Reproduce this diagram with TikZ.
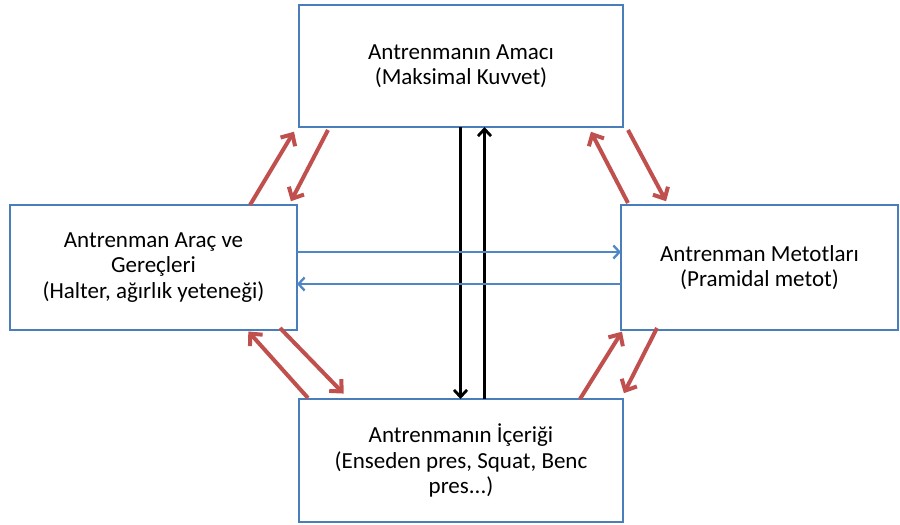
\documentclass[tikz,border=0pt]{standalone}
\usepackage{fontspec}
\setmainfont{Carlito}
\usetikzlibrary{arrows.meta,calc}
\definecolor{boxblue}{HTML}{4A7EBB}
\definecolor{linkblue}{HTML}{4F86C6}
\definecolor{linkred}{HTML}{C0504D}

\begin{document}
\begin{tikzpicture}[
    x=1pt, y=-1pt,
    box/.style={draw=boxblue, line width=2.8pt, fill=white, outer sep=0pt, align=center,
        font=\fontsize{23}{25.5}\selectfont},
    redarrow/.style={-{Straight Barb[length=9pt,width=17pt,line width=4pt]}, line width=4pt, draw=linkred, shorten >=2pt},
    bluearrow/.style={-{Straight Barb[length=6pt,width=13pt,line width=2.3pt]}, line width=2.3pt, draw=linkblue},
    blackarrow/.style={-{Straight Barb[length=7pt,width=13pt,line width=2.8pt]}, line width=2.8pt, draw=black}
]
\useasboundingbox (0,0) rectangle (900,525);

\node[box, minimum width=324pt, minimum height=122pt] (amac) at (461,66)
    {Antrenmanın Amacı\\(Maksimal Kuvvet)};
\node[box, minimum width=287pt, minimum height=125pt] (arac) at (153.5,267.5)
    {Antrenman Araç ve\\Gereçleri\\(Halter, ağırlık yeteneği)};
\node[box, minimum width=277pt, minimum height=125pt] (metot) at (759.5,267.5)
    {Antrenman Metotları\\(Pramidal metot)};
\node[box, minimum width=324pt, minimum height=123pt] (icerik) at (461,460.5)
    {Antrenmanın İçeriği\\(Enseden pres, Squat, Benc\\pres...)};

% amac <-> arac
\draw[redarrow] ($(arac.north east)+(-47,0)$) -- ($(amac.south west)+(-4,3)$);
\draw[redarrow] ($(amac.south west)+(29,3)$) -- ($(arac.north east)+(-7,-2)$);
% amac <-> metot
\draw[redarrow] ($(metot.north west)+(7,-2)$) -- ($(amac.south east)+(-33,3)$);
\draw[redarrow] ($(amac.south east)+(5,3)$) -- ($(metot.north west)+(46,-2)$);
% arac <-> icerik
\draw[redarrow] ($(icerik.north west)+(9,-1)$) -- ($(arac.south east)+(-50,0)$);
\draw[redarrow] ($(arac.south east)+(-17,-2)$) -- ($(icerik.north west)+(46,-4)$);
% metot <-> icerik
\draw[redarrow] ($(icerik.north east)+(-43,0)$) -- ($(metot.south west)+(2,0)$);
\draw[redarrow] ($(metot.south west)+(36,-2)$) -- ($(icerik.north east)+(0,-4)$);

% amac <-> icerik
\draw[blackarrow] ($(amac.south)+(-0.5,0)$) -- ($(icerik.north)+(-0.5,0)$);
\draw[blackarrow] ($(icerik.north)+(23.5,0)$) -- ($(amac.south)+(23.5,0)$);

% arac <-> metot
\draw[bluearrow] ($(arac.east)+(0,-15.5)$) -- ($(metot.west)+(0,-15.5)$);
\draw[bluearrow] ($(metot.west)+(0,16.5)$) -- ($(arac.east)+(0,16.5)$);
\end{tikzpicture}
\end{document}
